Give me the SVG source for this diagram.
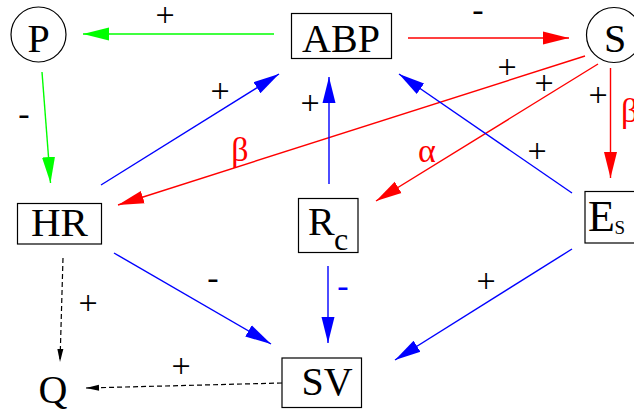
<svg xmlns="http://www.w3.org/2000/svg" width="634" height="415" viewBox="0 0 634 415">
<style>
.node{fill:#fff;stroke:#000;stroke-width:1.2}
.t{font-family:"Liberation Serif","Times New Roman",serif;font-size:40px;fill:#000}
.lbl{font-family:"Liberation Serif","Times New Roman",serif;font-size:34px;fill:#000;text-anchor:middle}
.g{stroke:#00ff00;stroke-width:1.4;fill:none}
.r{stroke:#ff0000;stroke-width:1.4;fill:none}
.b{stroke:#0000ff;stroke-width:1.4;fill:none}
.d{stroke:#000;stroke-width:1.2;fill:none;stroke-dasharray:5,3}
</style>
<defs>
<marker id="ag" markerUnits="userSpaceOnUse" markerWidth="28" markerHeight="16" viewBox="-26 -8 28 16" refX="0" refY="0" orient="auto"><path d="M0,0 L-26,-6.5 L-26,6.5 Z" fill="#00ff00"/></marker>
<marker id="ar" markerUnits="userSpaceOnUse" markerWidth="28" markerHeight="16" viewBox="-26 -8 28 16" refX="0" refY="0" orient="auto"><path d="M0,0 L-26,-6.5 L-26,6.5 Z" fill="#ff0000"/></marker>
<marker id="ab" markerUnits="userSpaceOnUse" markerWidth="28" markerHeight="16" viewBox="-26 -8 28 16" refX="0" refY="0" orient="auto"><path d="M0,0 L-26,-6.5 L-26,6.5 Z" fill="#0000ff"/></marker>
<marker id="ak" markerUnits="userSpaceOnUse" markerWidth="16" markerHeight="10" viewBox="-14 -5 16 10" refX="0" refY="0" orient="auto"><path d="M0,0 L-13,-3 L-13,3 Z" fill="#000"/></marker>
</defs>

<g id="connectors">
<line class="g" x1="274" y1="34" x2="83" y2="34" marker-end="url(#ag)"/>
<line class="g" x1="42" y1="72" x2="50.5" y2="183" marker-end="url(#ag)"/>
<line class="r" x1="408" y1="38" x2="569" y2="38" marker-end="url(#ar)"/>
<line class="b" x1="101" y1="185" x2="279" y2="74" marker-end="url(#ab)"/>
<line class="r" x1="585" y1="56" x2="118" y2="205" marker-end="url(#ar)"/>
<line class="r" x1="598" y1="64" x2="376" y2="201" marker-end="url(#ar)"/>
<line class="r" x1="610.5" y1="68" x2="610.5" y2="178" marker-end="url(#ar)"/>
<line class="b" x1="572" y1="193" x2="399" y2="74" marker-end="url(#ab)"/>
<line class="b" x1="329" y1="184" x2="329" y2="77" marker-end="url(#ab)"/>
<line class="b" x1="114" y1="253" x2="271" y2="344" marker-end="url(#ab)"/>
<line class="b" x1="328" y1="266" x2="328" y2="343" marker-end="url(#ab)"/>
<line class="b" x1="572" y1="249" x2="395" y2="360" marker-end="url(#ab)"/>
<line class="d" x1="63" y1="258" x2="60" y2="362" marker-end="url(#ak)"/>
<line class="d" x1="282" y1="383" x2="86" y2="388" marker-end="url(#ak)"/>

<text class="lbl" x="165" y="26">+</text>
<text class="lbl" x="24" y="125">-</text>
<text class="lbl" x="478" y="21">-</text>
<text class="lbl" x="220" y="102">+</text>
<text class="lbl" x="507" y="78">+</text>
<text class="lbl" x="240" y="161" fill="#ff0000" style="fill:#ff0000">β</text>
<text class="lbl" x="544" y="94">+</text>
<text class="lbl" x="427" y="162" style="fill:#ff0000">α</text>
<text class="lbl" x="598" y="106">+</text>
<text class="lbl" x="621" y="122" style="fill:#ff0000;text-anchor:start">β</text>
<text class="lbl" x="537" y="162">+</text>
<text class="lbl" x="310" y="114">+</text>
<text class="lbl" x="213" y="289">-</text>
<text class="lbl" x="343" y="297" style="fill:#0000ff">-</text>
<text class="lbl" x="486" y="292">+</text>
<text class="lbl" x="88" y="314">+</text>
<text class="lbl" x="181" y="377">+</text>
</g>

<g id="P">
<circle class="node" cx="38.5" cy="34.5" r="27.5"/>
<text class="t" x="38.5" y="52" text-anchor="middle">P</text>
</g>
<g id="ABP">
<rect class="node" x="291.5" y="13.5" width="100" height="45"/>
<text class="t" x="341" y="52" text-anchor="middle">ABP</text>
</g>
<g id="S">
<circle class="node" cx="614" cy="35" r="27.5"/>
<text class="t" x="615" y="52" text-anchor="middle">S</text>
</g>
<g id="HR">
<rect class="node" x="17.5" y="203.5" width="84" height="40.5"/>
<text class="t" x="59.5" y="236" text-anchor="middle" style="font-size:41px">HR</text>
</g>
<g id="Rc">
<rect class="node" x="298.5" y="198.5" width="59.5" height="54"/>
<text class="t" x="308" y="235.3">R</text>
<text class="t" x="334" y="249.5" style="font-size:32px">c</text>
</g>
<g id="Es">
<rect class="node" x="585" y="191.5" width="60" height="51.5"/>
<text class="t" x="588" y="231.3" style="font-size:44px">E</text>
<text class="t" x="614.5" y="234" style="font-size:19px">S</text>
</g>
<g id="SV">
<rect class="node" x="282" y="358" width="79.5" height="49.5"/>
<text class="t" x="327" y="394.5" text-anchor="middle">SV</text>
</g>
<g id="Q">
<text class="t" x="53" y="403" text-anchor="middle">Q</text>
</g>
</svg>
